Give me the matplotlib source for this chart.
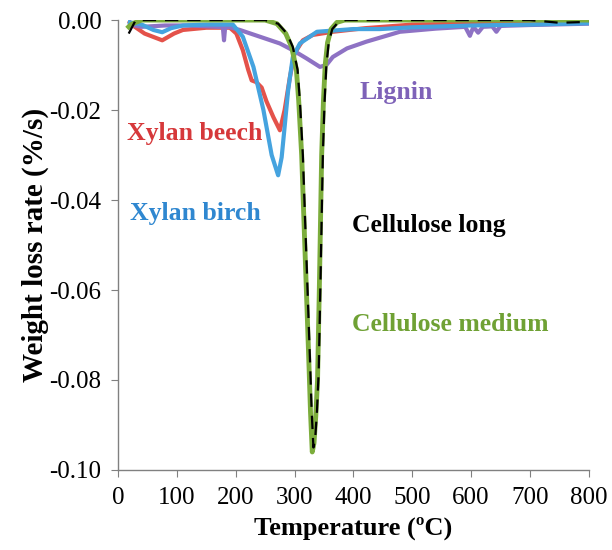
import matplotlib
matplotlib.use("Agg")
import matplotlib.pyplot as plt
import numpy as np

plt.rcParams['font.family'] = ['Liberation Serif', 'DejaVu Serif']
plt.rcParams['axes.unicode_minus'] = False

# Cellulose medium (green)
cm_T = [18, 22, 30, 40, 100, 200, 250, 270, 285, 295, 303, 307, 312, 316, 320, 324, 327, 330, 333, 336, 339, 342, 344, 346, 349, 352, 356, 362, 372, 385, 500, 800]
cm_v = [-0.0015, -0.001, -0.0005, 0, 0, 0, 0, -0.0008, -0.003, -0.006, -0.011, -0.018, -0.030, -0.045, -0.060, -0.075, -0.087, -0.096, -0.094, -0.088, -0.080, -0.060, -0.045, -0.030, -0.018, -0.010, -0.005, -0.002, -0.0005, 0, 0, 0]

# Cellulose long (black dashed)
cl_T = [18, 22, 26, 30, 40, 100, 200, 250, 272, 287, 297, 305, 309, 314, 318, 322, 326, 329, 332, 335, 338, 341, 344, 346, 348, 351, 354, 358, 364, 374, 387, 500, 700, 750, 800]
cl_v = [-0.003, -0.002, -0.001, 0, 0, 0, 0, 0, -0.0008, -0.003, -0.006, -0.011, -0.018, -0.030, -0.045, -0.060, -0.075, -0.087, -0.095, -0.093, -0.087, -0.078, -0.058, -0.044, -0.030, -0.018, -0.010, -0.005, -0.002, -0.0005, 0, 0, 0, -0.0006, -0.0004]

# Xylan birch (blue)
xbi_T = [20, 40, 60, 75, 90, 110, 150, 195, 212, 230, 247, 261, 272, 278, 283, 289, 297, 309, 338, 400, 445, 500, 600, 700, 800]
xbi_v = [-0.0005, -0.001, -0.0022, -0.0027, -0.0018, -0.0012, -0.001, -0.001, -0.0037, -0.0104, -0.020, -0.030, -0.0345, -0.0305, -0.0238, -0.0156, -0.0082, -0.0052, -0.0026, -0.002, -0.002, -0.0016, -0.0012, -0.001, -0.0007]

# Xylan beech (red)
xbe_T = [20, 24, 45, 75, 95, 110, 150, 190, 201, 212, 221, 227, 235, 244, 252, 264, 275, 283, 292, 300, 314, 331, 365, 420, 500, 600, 700, 800]
xbe_v = [-0.0005, -0.0011, -0.003, -0.0045, -0.003, -0.0022, -0.0017, -0.0017, -0.003, -0.0067, -0.011, -0.0134, -0.0138, -0.015, -0.018, -0.0216, -0.0245, -0.020, -0.0127, -0.0074, -0.0045, -0.0033, -0.0026, -0.0018, -0.0010, -0.0008, -0.0006, -0.0004]

# Lignin (purple)
lig_T = [20, 40, 80, 120, 170, 178, 180, 182, 190, 207, 241, 275, 297, 320, 343, 354, 365, 389, 422, 479, 540, 590, 598, 604, 612, 620, 636, 643, 650, 700, 800]
lig_v = [-0.001, -0.0015, -0.0012, -0.0012, -0.0015, -0.0015, -0.0045, -0.0015, -0.0016, -0.0022, -0.0037, -0.0052, -0.0067, -0.0085, -0.0104, -0.010, -0.0082, -0.0063, -0.0048, -0.0026, -0.0019, -0.0015, -0.0035, -0.0015, -0.0028, -0.0015, -0.0014, -0.0026, -0.0013, -0.0011, -0.0008]

xticks = [0, 100, 200, 300, 400, 500, 600, 700, 800]
yticks = [0.00, -0.02, -0.04, -0.06, -0.08, -0.10]

fig = plt.figure(figsize=(6.12, 5.5), dpi=100)
ax = fig.add_axes([0.193, 0.1455, 0.769, 0.818])

ax.plot(xbe_T, xbe_v, color='#E4524A', lw=3.0, solid_joinstyle='round')
ax.plot(lig_T, lig_v, color='#8E72C4', lw=3.0, solid_joinstyle='round')
ax.plot(xbi_T, xbi_v, color='#45A3DF', lw=3.0, solid_joinstyle='round')
ax.plot(cm_T, cm_v, color='#7CAD3C', lw=3.5, solid_joinstyle='round')
ax.plot(cl_T, cl_v, color='black', lw=1.6, dashes=(6, 4))

ax.set_xlim(0, 800)
ax.set_ylim(-0.10, 0.0)
ax.set_xticks(xticks)
ax.set_yticks(yticks)
ax.set_xticklabels([str(t) for t in xticks])
ax.set_yticklabels(['%.2f' % t for t in yticks])
for s in ['top', 'right']:
    ax.spines[s].set_visible(False)
for s in ['left', 'bottom']:
    ax.spines[s].set_color('#808080')
    ax.spines[s].set_linewidth(1.0)
ax.tick_params(direction='out', length=5, color='#808080', labelsize=18, pad=7)

ax.set_xlabel('Temperature (\u00baC)', fontsize=19, fontweight='bold', labelpad=6)
ax.set_ylabel('Weight loss rate (%/s)', fontsize=21, fontweight='bold', labelpad=0)

lab_kw = dict(fontsize=18.5, fontweight='bold', va='center', ha='left')
ax.text(15, -0.0252, 'Xylan beech', color='#D6383A', **lab_kw)
ax.text(20, -0.0430, 'Xylan birch', color='#2F87D0', **lab_kw)
ax.text(411, -0.0160, 'Lignin', color='#7E62B8', **lab_kw)
ax.text(397, -0.0457, 'Cellulose long', color='black', **lab_kw)
ax.text(397, -0.0677, 'Cellulose medium', color='#6FA134', **lab_kw)

fig.savefig('out.png', dpi=100)
